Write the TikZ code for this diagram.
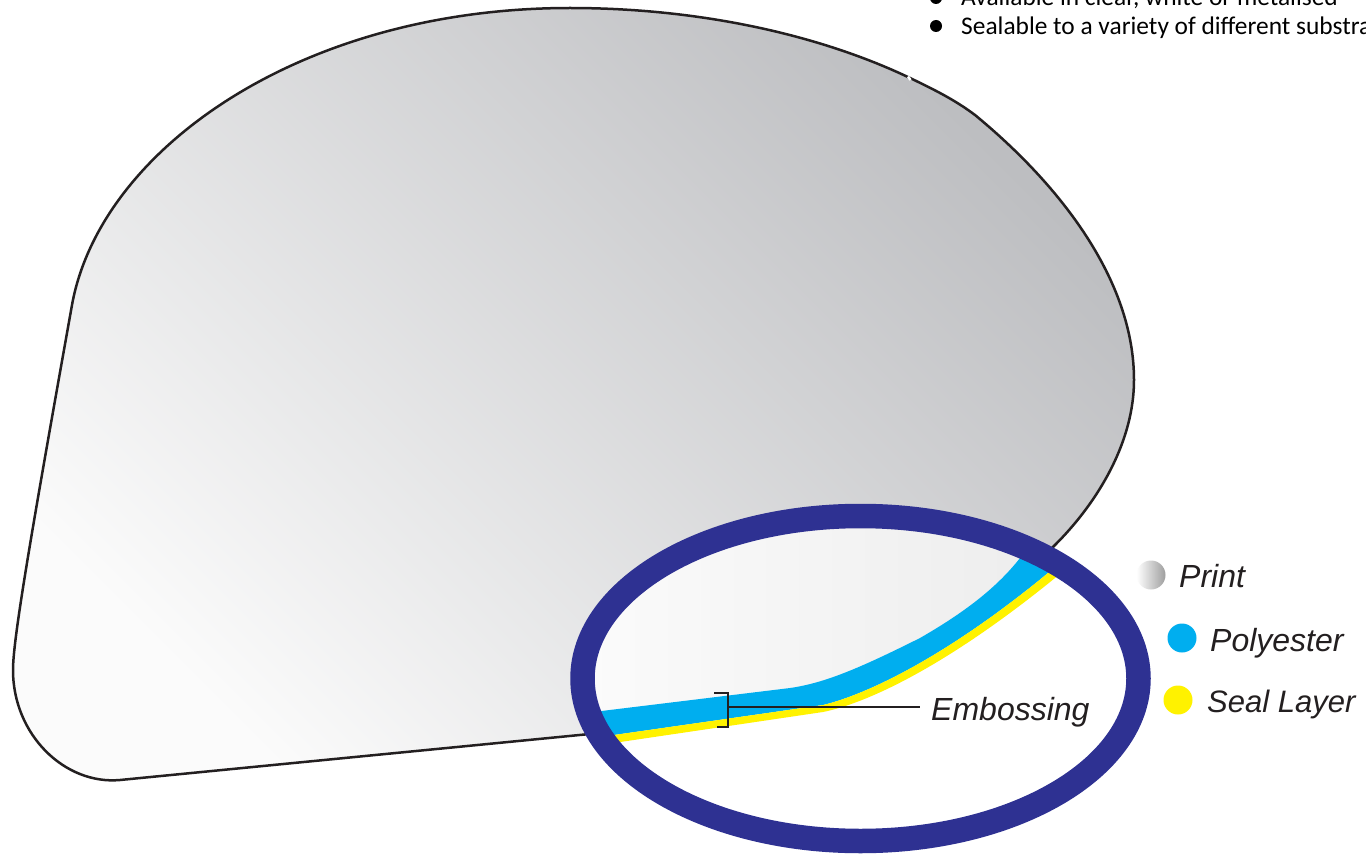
\documentclass[tikz,border=0pt]{standalone}
\usepackage{fontspec}
\setmainfont{Liberation Sans}
\newfontfamily\calfont{Carlito}
\usetikzlibrary{calc}
\definecolor{ringblue}{HTML}{2E3192}
\definecolor{polyblue}{HTML}{00AEEF}
\definecolor{sealyellow}{HTML}{FFF200}
\definecolor{inkline}{HTML}{231F20}
\definecolor{pale}{HTML}{FBFBFB}
\definecolor{midgrey}{HTML}{BDBEC1}
\tikzset{
  legendtext/.style={anchor=base west,inner sep=0pt,text=inkline,font=\fontsize{32}{36}\selectfont\itshape},
  bullettext/.style={anchor=base west,inner sep=0pt,text=black,font=\calfont\fontsize{25.4}{28}\selectfont},
  bulletdot/.style={circle,fill=black,inner sep=0pt,minimum size=12pt},
  legenddot/.style={circle,inner sep=0pt,minimum size=29pt},
  outlinepen/.style={draw=inkline,line width=2.5pt},
  thinpen/.style={draw=inkline,line width=2.8pt},
}
\begin{document}
\begin{tikzpicture}[x=1pt,y=-1pt]
\clip (0,0) rectangle (1366,856);
\fill[white] (0,0) rectangle (1366,856);
% bullets
\node[bulletdot] (b1) at (936,-2) {};
\node[bullettext] (t1) at (961,6) {Available in clear, white or metalised};
\node[bulletdot] (b2) at (936,26) {};
\node[bullettext] (t2) at (961,35) {Sealable to a variety of different substra};
% blob
\def\blob{(72,305) .. controls (100,150) and (300,8) .. (570,8)
  .. controls (700,8) and (820,35) .. (910,78)
  .. controls (935,90) and (955,100) .. (975,115)
  .. controls (1060,185) and (1134,280) .. (1134,380)
  .. controls (1134,440) and (1100,500) .. (1055,545)
  -- (1030,570) -- (600,733) -- (120,780)
  .. controls (65,785) and (13,735) .. (13,670)
  .. controls (13,640) and (30,540) .. (72,305) -- cycle}
\shade[left color=midgrey,right color=pale,shading angle=-45] \blob;
\draw[outlinepen,line join=round] \blob;
\draw[white,line width=2.5pt] (908,76.5) -- (910.5,80);
% ring interior
\coordinate (ringc) at (860.5,678.5);
\fill[white] (ringc) ellipse [x radius=278, y radius=162.5];
\def\bluetop{(585,713) -- (790,688) .. controls (825,683) and (860,668) .. (920,638)
   .. controls (960,615) and (995,590) .. (1020,558) -- (1030,545)}
\begin{scope}
  \clip (ringc) ellipse [x radius=278, y radius=162.5];
  \begin{scope}
    \clip \bluetop -- (1200,545) -- (1200,500) -- (585,500) -- cycle;
    \shade[left color=pale,right color=black!8] (585,510) rectangle (1125,745);
  \end{scope}
  \fill[polyblue] \bluetop -- (1062,562) -- (1048,573)
     .. controls (945,658) and (865,695) .. (823,705) -- (600,737) -- cycle;
  \fill[sealyellow] (600,737) -- (823,705) .. controls (865,695) and (945,658) .. (1048,573) -- (1062,562)
     -- (1068,567) -- (1055,578) .. controls (948,665) and (868,703) .. (823,712) -- (600,745) -- cycle;
\end{scope}
% ring
\draw[ringblue,line width=24.5pt] (ringc) ellipse [x radius=278, y radius=162.5];
% embossing callout
\coordinate (brT) at (714,693);
\coordinate (brTc) at (728,693);
\coordinate (brB) at (717,727);
\coordinate (brBc) at (728,727);
\coordinate (brM) at (728,707);
\draw[thinpen] (brT) -- (brTc) -- (brBc) -- (brB);
\node[legendtext] (emb) at (931,720) {Embossing};
\coordinate (embEnd) at (920,707);
\draw[thinpen] (brM) -- (embEnd);
% legend
\node[legenddot,left color=white,right color=black!38] (dprint) at (1151,575) {};
\node[legendtext] (lprint) at (1179,587) {Print};
\node[legenddot,fill=polyblue] (dpoly) at (1182,638) {};
\node[legendtext] (lpoly) at (1210,651) {Polyester};
\node[legenddot,fill=sealyellow] (dseal) at (1178,700) {};
\node[legendtext,font=\fontsize{31}{36}\selectfont\itshape] (lseal) at (1207,712) {Seal Layer};
\end{tikzpicture}
\end{document}
